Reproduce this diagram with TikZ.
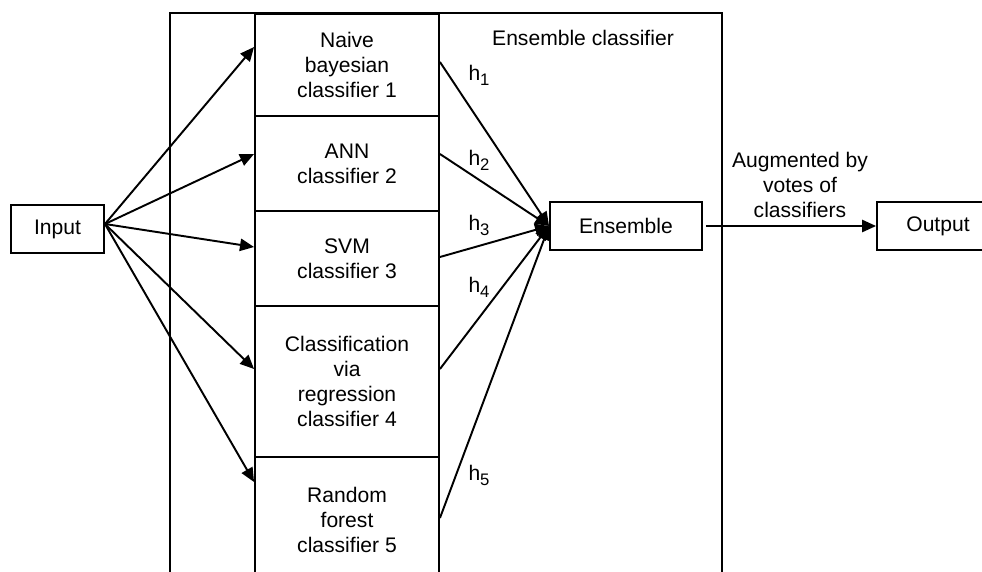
\documentclass[tikz,border=0pt]{standalone}
\usepackage{fontspec}
\setmainfont{Liberation Sans}
\usetikzlibrary{arrows.meta}

\newcommand{\hsub}[1]{h\raisebox{-2.8pt}{\fontsize{9.5}{10}\selectfont #1}}

\tikzset{
	box/.style={draw, line width=1.1pt, align=center, inner sep=2pt},
	arr/.style={line width=1.1pt, -{Triangle[length=8pt,width=7pt]}},
	lnk/.style={line width=1.1pt},
}

\begin{document}
\begin{tikzpicture}[x=0.02cm, y=-0.02cm, font=\fontsize{12}{14.2}\selectfont]
	\useasboundingbox (0,0) rectangle (982,571);
	% frame of the ensemble classifier
	\draw[lnk] (170,600) -- (170,13) -- (722,13) -- (722,600);
	\node (title) at (583,38) {Ensemble classifier};
	% nodes
	\node[box, minimum width=1.86cm, minimum height=0.96cm] (input) at (57.5,229) {Input};
	\node[box, minimum width=3.68cm, minimum height=2.04cm] (c1) at (347,65) {Naive\\bayesian\\classifier 1};
	\node[box, minimum width=3.68cm, minimum height=1.9cm] (c2) at (347,163.5) {ANN\\classifier 2};
	\node[box, minimum width=3.68cm, minimum height=1.9cm] (c3) at (347,258.5) {SVM\\classifier 3};
	\node[box, minimum width=3.68cm, minimum height=3.02cm] (c4) at (347,381.5) {Classification\\via\\regression\\classifier 4};
	\node[box, minimum width=3.68cm, minimum height=2.52cm] (c5) at (347,520) {Random\\forest\\classifier 5};
	\node[box, minimum width=3.04cm, minimum height=0.96cm] (ens) at (626,226) {Ensemble};
	\node[box, minimum width=2.44cm, minimum height=0.96cm] (out) at (938,226) {Output};
	% input to classifiers
	\coordinate (src) at ([yshift=0.1cm]input.east);
	\draw[arr] (src) -- ([yshift=0.36cm]c1.west);
	\draw[arr] (src) -- ([yshift=0.19cm]c2.west);
	\draw[arr] (src) -- ([yshift=0.23cm]c3.west);
	\draw[arr] (src) -- ([yshift=0.25cm]c4.west);
	\draw[arr] (src) -- ([yshift=0.76cm]c5.west);
	% classifiers to ensemble
	\draw[arr] ([yshift=0.06cm]c1.east) -- (ens.west);
	\draw[arr] ([yshift=0.19cm]c2.east) -- (ens.west);
	\draw[arr] ([yshift=0.03cm]c3.east) -- (ens.west);
	\draw[arr] ([yshift=0.25cm]c4.east) -- (ens.west);
	\draw[arr] ([yshift=0.04cm]c5.east) -- (ens.west);
	\node (h1) at (479,75) {\hsub{1}};
	\node (h2) at (479,160) {\hsub{2}};
	\node (h3) at (479,225) {\hsub{3}};
	\node (h4) at (479,287) {\hsub{4}};
	\node (h5) at (479,475) {\hsub{5}};
	% ensemble to output
	\draw[arr] ([xshift=0.06cm]ens.east) -- (out.west);
	\node[align=center] (votes) at (800,185) {Augmented by\\votes of\\classifiers};
\end{tikzpicture}
\end{document}
